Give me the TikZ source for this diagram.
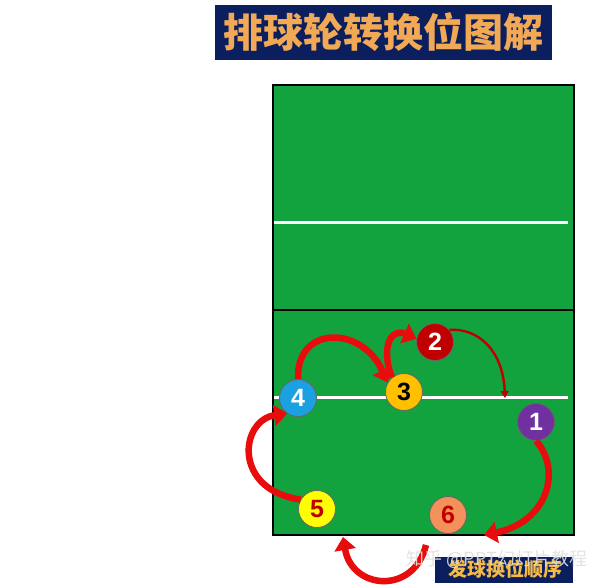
\documentclass[tikz,border=0pt]{standalone}
\usepackage{fontspec}
\newfontfamily\cjk{Noto Sans CJK SC}
\setsansfont{Liberation Sans}
\usetikzlibrary{arrows.meta}

\definecolor{courtgreen}{HTML}{12A33F}
\definecolor{navy}{HTML}{0B1F5E}
\definecolor{gold}{HTML}{F2A956}
\definecolor{arrowred}{HTML}{E80C0C}
\definecolor{darkred}{HTML}{C00000}

\tikzset{
  player/.style={circle, draw=black!60, line width=0.8pt, minimum size=37pt,
    inner sep=0pt, font=\sffamily\bfseries\fontsize{25}{25}\selectfont},
  turn/.style={draw=arrowred, line width=6.5pt,
    -{Triangle[length=13pt,width=21pt]}},
  thinturn/.style={draw=darkred, line width=2.4pt,
    -{Triangle[length=7pt,width=8pt]}}
}

\begin{document}
\begin{tikzpicture}[x=1pt,y=-1pt]
      \useasboundingbox (0,0) rectangle (600,586);
      \fill[white] (0,0) rectangle (600,586);

      % title
      \fill[navy] (215,5) rectangle (552,60);
      \node (title) [text=gold, font=\cjk\bfseries\fontsize{40}{40}\selectfont] at (383.5,32.5) {排球轮转换位图解};

      % court
      \fill[courtgreen] (273,85) rectangle (574,535);
      \draw[white, line width=3pt] (274,222) -- (568,222);
      \draw[white, line width=3pt] (274,397) -- (568,397);
      \draw[black, line width=2.5pt] (273,310) -- (574,310);
      \draw[black, line width=1.8pt] (273,85) rectangle (574,535);

      % players
      \node (n1) [player, fill={rgb,255:red,112;green,48;blue,160}, text=white] at (536,422) {1};
      \node (n2) [player, fill=darkred, text=white] at (435,342) {2};
      \node (n3) [player, fill={rgb,255:red,255;green,192;blue,0}, text=black] at (404,392) {3};
      \node (n4) [player, fill={rgb,255:red,27;green,161;blue,226}, text=white] at (298,398) {4};
      \node (n5) [player, fill={rgb,255:red,255;green,255;blue,0}, text=darkred] at (317,509) {5};
      \node (n6) [player, fill={rgb,255:red,244;green,145;blue,90}, text=darkred] at (448,515) {6};

      % free ends of the arrows
      \coordinate (c16) at (484,535);
      \coordinate (c6s) at (426,545);
      \coordinate (c65) at (343,537);
      \coordinate (c21) at (505,398);

      % rotation arrows
      \draw[turn] (n1.south) .. controls (562,470) and (548,522) .. (c16);
      \draw[turn] (c6s) .. controls (414,595) and (352,590) .. (c65);
      \draw[turn] (n5.150) .. controls (232,490) and (240,420) .. (n4.235);
      \draw[turn] (n4.north) .. controls (296,325) and (362,325) .. (n3.150);
      \draw[turn] (n3.130) .. controls (380,345) and (392,328) .. (n2.170);
      \draw[thinturn] (n2.40) .. controls (478,328) and (503,350) .. (c21);

      % serve order label
      \fill[navy] (435,557) rectangle (573,583);
      \node (order) [text=gold!80!yellow, font=\cjk\bfseries\fontsize{19}{19}\selectfont] at (505,569) {发球换位顺序};

      % watermark
      \node (mark) [text=black!12, opacity=0.9, font=\cjk\fontsize{18}{18}\selectfont] at (497,559) {知乎 @PPT幻灯片教程};

    \end{tikzpicture}
\end{document}
